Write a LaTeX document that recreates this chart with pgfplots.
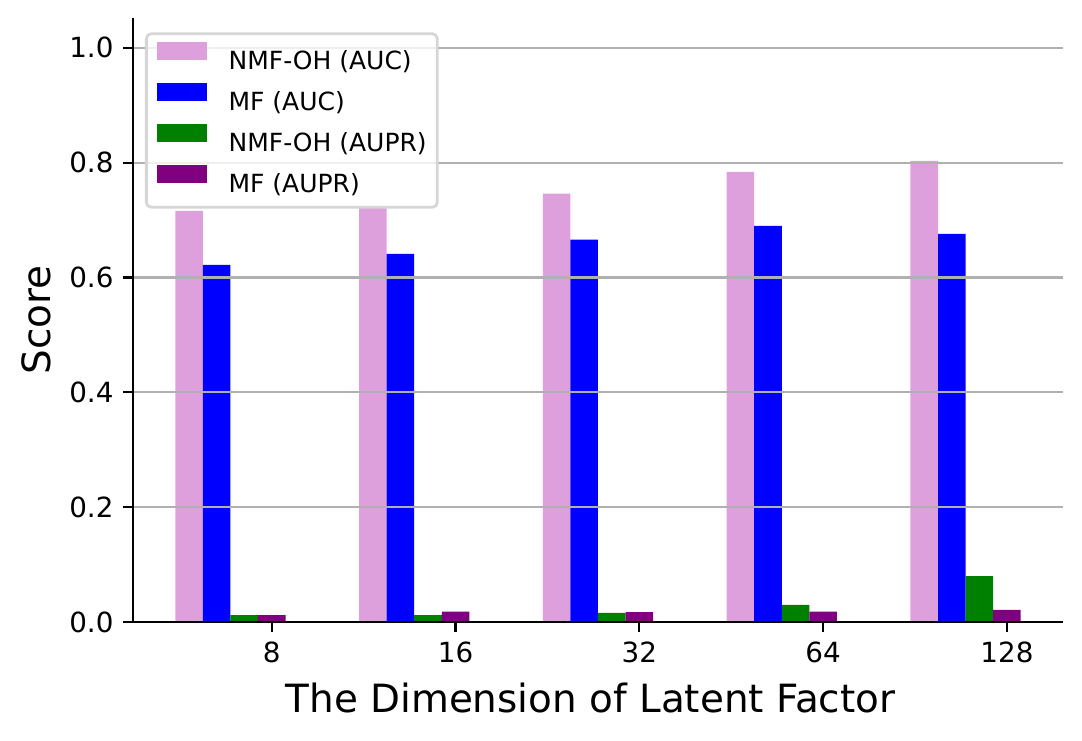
\documentclass[border=0pt]{standalone}
\usepackage{pgfplots}
\pgfplotsset{compat=1.18}
\usepackage{fontspec}
\setmainfont{DejaVu Sans}
\usetikzlibrary{calc}
\definecolor{cplum}{HTML}{DDA0DD}
\definecolor{cblue}{HTML}{0000FF}
\definecolor{cgreen}{HTML}{008000}
\definecolor{cpurple}{HTML}{800080}
\definecolor{gridgray}{HTML}{B0B0B0}
\definecolor{legframe}{HTML}{D6D6D6}
\begin{document}
\begin{tikzpicture}
\begin{axis}[
  name=ax,
  scale only axis,
  width=334.8pt, height=217.44pt,
  xmin=-0.305, xmax=4.755,
  ymin=0, ymax=1.052,
  axis x line*=bottom, axis y line*=left,
  axis line style={-, black, line width=0.8pt},
  tick align=outside,
  major tick length=3.5pt,
  every tick/.style={black, line width=0.8pt},
  xtick={0.45,1.45,2.45,3.45,4.45},
  xticklabels={8,16,32,64,128},
  ytick={0,0.2,0.4,0.6,0.8,1.0},
  minor tick num=0,
  /pgf/number format/.cd, fixed, fixed zerofill, precision=1, assume math mode=true,
  /pgfplots/.cd,
  tick label style={font=\fontsize{10}{12}\selectfont},
  ymajorgrids,
  grid style={gridgray, line width=0.8pt},
  axis on top,
  xlabel={The Dimension of Latent Factor},
  ylabel={Score},
  every axis x label/.style={at={(rel axis cs:0.492,-0.1495)}, anchor=base, font=\fontsize{14}{17}\selectfont},
  every axis y label/.style={at={(rel axis cs:-0.1035,0.5)}, anchor=center, rotate=90, font=\fontsize{14}{17}\selectfont},
  legend cell align=left,
  legend image code/.code={\fill[#1, fill opacity=1, sharp corners] (0pt,0.5pt) rectangle (18pt,6.98pt); \path (25.8pt,3pt);},
  legend style={
    at={(rel axis cs:0,1)}, anchor=north west, xshift=4.32pt, yshift=-5.15pt,
    font=\fontsize{9}{11}\selectfont,
    draw=legframe, line width=1pt, rounded corners=1.8pt,
    fill=white, fill opacity=0.8, draw opacity=1, text opacity=1,
    inner xsep=3.8pt, inner ysep=3pt,
    row sep=2.66pt,
    nodes={inner sep=0pt, text height=7.9pt, text depth=2.4pt},
  },
]
\addplot[ybar, bar width=0.15, bar shift=0pt, fill=cplum, draw=none] coordinates {
  (0,0.716) (1,0.725) (2,0.746) (3,0.784) (4,0.803)};
\addlegendentry{NMF-OH (AUC)}
\addplot[ybar, bar width=0.15, bar shift=0pt, fill=cblue, draw=none] coordinates {
  (0.15,0.622) (1.15,0.641) (2.15,0.666) (3.15,0.690) (4.15,0.676)};
\addlegendentry{MF (AUC)}
\addplot[ybar, bar width=0.15, bar shift=0pt, fill=cgreen, draw=none] coordinates {
  (0.30,0.012) (1.30,0.012) (2.30,0.016) (3.30,0.030) (4.30,0.080)};
\addlegendentry{NMF-OH (AUPR)}
\addplot[ybar, bar width=0.15, bar shift=0pt, fill=cpurple, draw=none] coordinates {
  (0.45,0.012) (1.45,0.018) (2.45,0.017) (3.45,0.018) (4.45,0.021)};
\addlegendentry{MF (AUPR)}
\end{axis}
\pgfresetboundingbox
\path[use as bounding box] ($(ax.south west)+(-47.88pt,-42.48pt)$) rectangle ($(ax.north east)+(6.84pt,6.48pt)$);
\end{tikzpicture}
\end{document}
